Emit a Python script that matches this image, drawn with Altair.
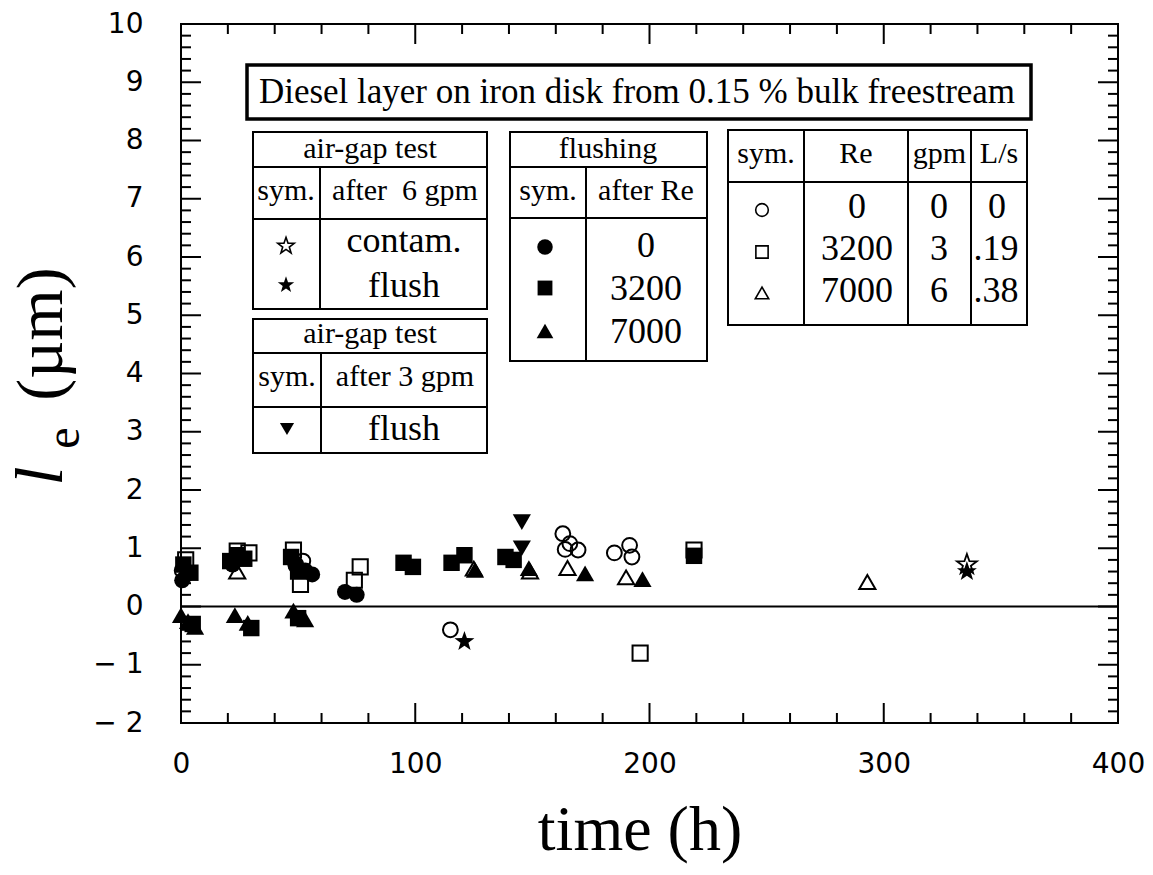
import altair as alt
import pandas as pd

# ---------------- data: time (h) and l_e (µm) ----------------
# open circle  (Re 0, contam.)
oc_t = [0.5, 49, 52, 115, 163, 164, 166, 169.5, 185, 191.5, 192.5]
oc_v = [0.62, 0.72, 0.78, -0.40, 1.25, 0.98, 1.08, 0.97, 0.92, 1.05, 0.85]
# open square  (Re 3200)
os_t = [2, 24, 29, 48, 51, 74, 76.5, 196, 219]
os_v = [0.80, 0.95, 0.92, 0.97, 0.38, 0.45, 0.68, -0.80, 0.97]
# open triangle (Re 7000)
ot_t = [24, 125, 149, 165, 190, 293]
ot_v = [0.60, 0.65, 0.60, 0.66, 0.50, 0.42]
# filled circle (flushing after Re 0)
fc_t = [0.5, 2.5, 22, 49, 53, 56, 70, 75]
fc_v = [0.45, 0.55, 0.72, 0.70, 0.62, 0.55, 0.25, 0.20]
# filled square (flushing after Re 3200)
fs_t = [1, 4, 21, 24, 27, 47, 50, 95, 99, 115.5, 121, 138.5, 142, 219, 5, 30, 50]
fs_v = [0.72, 0.58, 0.78, 0.88, 0.82, 0.85, 0.60, 0.75, 0.68, 0.75, 0.88, 0.85, 0.80, 0.87, -0.30, -0.37, -0.20]
# filled triangle (flushing after Re 7000)
ft_t = [0, 3, 6, 23, 28.5, 48, 53, 125.5, 148.5, 172.5, 197]
ft_v = [-0.15, -0.25, -0.35, -0.15, -0.28, -0.07, -0.22, 0.63, 0.66, 0.57, 0.47]
# filled down triangle (air-gap test after 3 gpm, flush)
fd_t = [145.5, 145.5]
fd_v = [1.45, 1.00]
# open star (air-gap test after 6 gpm, contam.)
ostar_t = [335.5]
ostar_v = [0.72]
# filled star (air-gap test after 6 gpm, flush)
fstar_t = [121, 335.5]
fstar_v = [-0.60, 0.60]

# axis ticks
x_major = [0, 100, 200, 300, 400]
x_minor = [v for v in range(0, 401, 20) if v % 100]
y_major = list(range(-2, 11))
y_minor = [round(-2 + 0.2 * i, 1) for i in range(61) if i % 5]

# ---------------- layout ----------------
W, H = 937, 699
PX0, PY0 = 181, 24
SERIF = "Liberation Serif"
SANS = "DejaVu Sans"
NBSP = "\u00a0"
STAR = ("M0,-1 L0.235,-0.324 L0.951,-0.309 L0.380,0.124 L0.588,0.809 "
        "L0,0.4 L-0.588,0.809 L-0.380,0.124 L-0.951,-0.309 L-0.235,-0.324 Z")

xs = alt.Scale(domain=[0, 400], nice=False, zero=False)
ys = alt.Scale(domain=[-2, 10], nice=False, zero=False)

x_axis = alt.Axis(values=x_major, labelFont=SANS, labelFontSize=28, labelColor="black",
                  ticks=False, domain=False, grid=False, labelPadding=27, title=None,
                  labelFlush=False, format="d")
y_axis = alt.Axis(values=y_major, labelFont=SANS, labelFontSize=28, labelColor="black",
                  ticks=False, domain=False, grid=False, labelPadding=38, title=None,
                  labelExpr="datum.value < 0 ? '\u2212 ' + (-datum.value) : '' + datum.value")


def dx(px):
    return (px - PX0) / W * 400


def dy(py):
    return 10 - (py - PY0) / H * 12


def X(f="x"):
    return alt.X(f + ":Q", scale=xs, axis=x_axis)


def Y(f="y"):
    return alt.Y(f + ":Q", scale=ys, axis=y_axis)


layers = []

# zero line
layers.append(alt.Chart(pd.DataFrame({"y": [0.0]})).mark_rule(color="black", strokeWidth=2).encode(
    x=alt.value(0), x2=alt.value(W), y=Y()))


# ticks (inside, mirrored)
def xtick(vals, length, top):
    df = pd.DataFrame({"x": vals})
    y0, y1 = (0, length) if top else (H, H - length)
    return alt.Chart(df).mark_rule(color="black", strokeWidth=2).encode(
        x=X(), y=alt.value(y0), y2=alt.value(y1))


def ytick(vals, length, right):
    df = pd.DataFrame({"y": vals})
    x0, x1 = (W, W - length) if right else (0, length)
    return alt.Chart(df).mark_rule(color="black", strokeWidth=2).encode(
        y=Y(), x=alt.value(x0), x2=alt.value(x1))


layers += [
    xtick(x_major, 20, False), xtick(x_minor, 10, False),
    xtick(x_major, 20, True), xtick(x_minor, 10, True),
    ytick(y_major, 20, False), ytick(y_minor, 10, False),
    ytick(y_major, 20, True), ytick(y_minor, 10, True),
]


# data points
def pts(t, v, shape, filled, size, sw=2.0):
    df = pd.DataFrame({"x": t, "y": v})
    return alt.Chart(df).mark_point(shape=shape, filled=filled, size=size, color="black",
                                    strokeWidth=sw, opacity=1).encode(x=X(), y=Y())


layers += [
    pts(os_t, os_v, "square", False, 230),
    pts(oc_t, oc_v, "circle", False, 220),
    pts(ot_t, ot_v, "triangle-up", False, 260),
    pts(fc_t, fc_v, "circle", True, 256),
    pts(fs_t, fs_v, "square", True, 270),
    pts(ft_t, ft_v, "triangle-up", True, 330),
    pts(fd_t, fd_v, "triangle-down", True, 330),
    pts(ostar_t, ostar_v, STAR, False, 440, 1.8),
    pts(fstar_t, fstar_v, STAR, True, 440),
]

# ---------------- legend tables (page pixel layout converted to data units) ----------------
boxes = [  # (left, right, top, bottom)
    (253, 487, 132, 309),
    (253, 487, 319, 453),
    (510, 707, 132, 361),
    (728, 1027, 130, 325),
]
bdf = pd.DataFrame({"x": [dx(b[0]) for b in boxes], "x2": [dx(b[1]) for b in boxes],
                    "y": [dy(b[2]) for b in boxes], "y2": [dy(b[3]) for b in boxes]})
tdf = pd.DataFrame({"x": [dx(247)], "x2": [dx(1031)], "y": [dy(65)], "y2": [dy(119)]})
layers.append(alt.Chart(tdf).mark_rect(fill="white", stroke="black", strokeWidth=3.5).encode(
    x=X(), x2="x2:Q", y=Y(), y2="y2:Q"))
layers.append(alt.Chart(bdf).mark_rect(fill="white", stroke="black", strokeWidth=2).encode(
    x=X(), x2="x2:Q", y=Y(), y2="y2:Q"))

lines = [  # (x1, x2, y1, y2)
    (253, 487, 167, 167), (253, 487, 219, 219), (320, 320, 167, 309),
    (253, 487, 353, 353), (253, 487, 407, 407), (321, 321, 353, 453),
    (510, 707, 167, 167), (510, 707, 218, 218), (586, 586, 167, 361),
    (728, 1027, 182, 182), (804, 804, 130, 325), (908, 908, 130, 325), (971, 971, 130, 325),
]
ldf = pd.DataFrame({"x": [dx(l[0]) for l in lines], "x2": [dx(l[1]) for l in lines],
                    "y": [dy(l[2]) for l in lines], "y2": [dy(l[3]) for l in lines]})
layers.append(alt.Chart(ldf).mark_rule(color="black", strokeWidth=2).encode(
    x=X(), x2="x2:Q", y=Y(), y2="y2:Q"))

texts = [  # (x, baseline y, text, font size)
    (637, 103, "Diesel layer on iron disk from 0.15 % bulk freestream", 35),
    (370, 158, "air-gap test", 30), (286, 200, "sym.", 30),
    (405, 200, "after" + NBSP + NBSP + "6 gpm", 30),
    (404, 252, "contam.", 36), (404, 297, "flush", 36),
    (370, 343, "air-gap test", 30), (287, 386, "sym.", 30), (405, 386, "after 3 gpm", 30),
    (404, 440, "flush", 36),
    (608, 158, "flushing", 30), (548, 200, "sym.", 30), (646, 200, "after Re", 30),
    (646, 257, "0", 36), (646, 300, "3200", 36), (646, 343, "7000", 36),
    (766, 163, "sym.", 30), (856, 163, "Re", 30), (939.5, 163, "gpm", 30), (999, 163, "L/s", 30),
    (857, 218, "0", 36), (857, 260, "3200", 36), (857, 302, "7000", 36),
    (939, 218, "0", 36), (939, 260, "3", 36), (939, 302, "6", 36),
    (997, 218, "0", 36), (996, 260, ".19", 36), (996, 302, ".38", 36),
]
txdf = pd.DataFrame({"x": [dx(t[0]) for t in texts], "y": [dy(t[1]) for t in texts],
                     "t": [t[2] for t in texts], "fs": [t[3] for t in texts]})
layers.append(alt.Chart(txdf).mark_text(font=SERIF, align="center", baseline="alphabetic",
                                        color="black").encode(
    x=X(), y=Y(), text="t:N", size=alt.Size("fs:Q", scale=None, legend=None)))


# legend symbols
def sym(px, py, shape, filled, size, sw=1.6):
    df = pd.DataFrame({"x": [dx(px)], "y": [dy(py)]})
    return alt.Chart(df).mark_point(shape=shape, filled=filled, size=size, color="black",
                                    strokeWidth=sw, opacity=1).encode(x=X(), y=Y())


layers += [
    sym(286, 246, STAR, False, 300, 1.6), sym(286, 285, STAR, True, 300),
    sym(287, 429, "triangle-down", True, 200),
    sym(545, 247, "circle", True, 240), sym(545, 288, "square", True, 220),
    sym(545, 331, "triangle-up", True, 280),
    sym(762, 210, "circle", False, 160), sym(762, 252, "square", False, 150),
    sym(762, 293, "triangle-up", False, 180),
]

# axis titles
one = pd.DataFrame({"a": [0]})
layers += [
    alt.Chart(one).mark_text(text="time (h)", font=SERIF, fontSize=64, align="center",
                             baseline="alphabetic", color="black").encode(
        x=alt.value(640 - PX0), y=alt.value(850 - PY0)),
    alt.Chart(one).mark_text(text="l", font=SERIF, fontStyle="italic", fontSize=68, angle=270,
                             align="center", baseline="alphabetic", color="black").encode(
        x=alt.value(62 - PX0), y=alt.value(476 - PY0)),
    alt.Chart(one).mark_text(text="e", font=SERIF, fontSize=48, angle=270,
                             align="center", baseline="alphabetic", color="black").encode(
        x=alt.value(79 - PX0), y=alt.value(438 - PY0)),
    alt.Chart(one).mark_text(text="(µm)", font=SERIF, fontSize=66, angle=270,
                             align="center", baseline="alphabetic", color="black").encode(
        x=alt.value(62 - PX0), y=alt.value(334 - PY0)),
]

chart = alt.layer(*layers).properties(
    width=W, height=H,
    autosize=alt.AutoSizeParams(type="none"),
    padding={"left": PX0 - 8, "top": PY0 - 8, "right": 1153 - 8 - PX0 - W, "bottom": 875 - 8 - PY0 - H},
    background="white",
).configure_view(stroke="black", strokeWidth=2)

chart.save("out.html", embed_options={"renderer": "svg", "actions": False})
